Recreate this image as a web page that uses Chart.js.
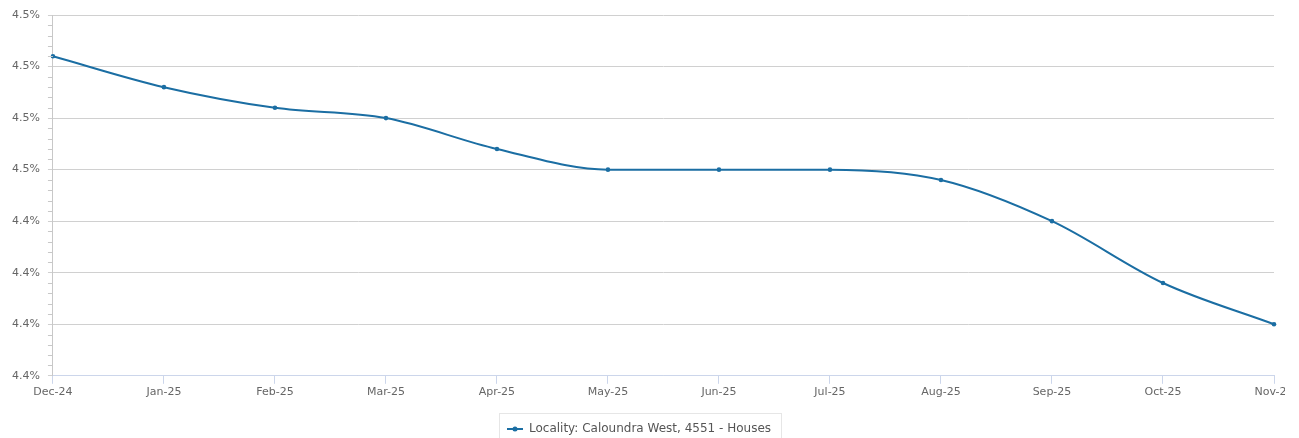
<!DOCTYPE html>
<html>
<head>
<meta charset="utf-8">
<script src="https://cdn.jsdelivr.net/npm/chart.js@4.4.1/dist/chart.umd.min.js"></script>
<style>
  html, body { margin: 0; padding: 0; background: #fff; }
  #wrap { width: 1285px; height: 438px; overflow: hidden; }
</style>
</head>
<body>
<div id="wrap"><canvas id="grafico" width="1285" height="445"></canvas></div>
<script>
// Dados do gráfico
const meses = ['Dec-24', 'Jan-25', 'Feb-25', 'Mar-25', 'Apr-25', 'May-25', 'Jun-25', 'Jul-25', 'Aug-25', 'Sep-25', 'Oct-25', 'Nov-25'];
const rendimento = [4.472, 4.466, 4.462, 4.46, 4.454, 4.45, 4.45, 4.45, 4.448, 4.44, 4.428, 4.42];
const nomeSerie = 'Locality: Caloundra West, 4551 - Houses';
const eixoMin = 4.41;
const eixoMax = 4.48;
const eixoPasso = 0.01;

const corLinha = '#1b6ea3';

// marcador da legenda: linha com ponto no meio
const marcador = document.createElement('canvas');
marcador.width = 16;
marcador.height = 6;
const mctx = marcador.getContext('2d');
mctx.strokeStyle = corLinha;
mctx.lineWidth = 2;
mctx.beginPath();
mctx.moveTo(0, 3);
mctx.lineTo(16, 3);
mctx.stroke();
mctx.fillStyle = corLinha;
mctx.beginPath();
mctx.arc(8, 3, 2.5, 0, Math.PI * 2);
mctx.fill();

// ticks menores no eixo y + borda da legenda
const extras = {
    id: 'extras',
    afterDraw(chart) {
        const ctx = chart.ctx;
        const y = chart.scales.y;
        const xEsq = chart.chartArea.left;
        ctx.save();
        ctx.strokeStyle = '#c8c8c8';
        ctx.lineWidth = 1;
        for (let v = eixoMin; v < eixoMax - 1e-9; v += eixoPasso) {
            for (let k = 1; k < 5; k++) {
                const py = Math.round(y.getPixelForValue(v + k * eixoPasso / 5)) + 0.5;
                ctx.beginPath();
                ctx.moveTo(xEsq - 5, py);
                ctx.lineTo(xEsq, py);
                ctx.stroke();
            }
        }
        const hb = chart.legend.legendHitBoxes[0];
        if (hb) {
            const cy = hb.top + hb.height / 2;
            ctx.strokeStyle = '#e6e6e6';
            ctx.strokeRect(Math.round(hb.left - 8) + 0.5, Math.round(cy - 16) + 0.5, Math.round(hb.width + 18), 40);
        }
        ctx.restore();
    }
};

Chart.defaults.font.family = '"DejaVu Sans", sans-serif';

const grafico = new Chart(document.getElementById('grafico'), {
    type: 'line',
    data: {
        labels: meses,
        datasets: [{
            label: nomeSerie,
            data: rendimento,
            borderColor: corLinha,
            backgroundColor: corLinha,
            borderWidth: 2,
            pointRadius: 2.3,
            pointHoverRadius: 3,
            pointBorderWidth: 0,
            cubicInterpolationMode: 'monotone'
        }]
    },
    options: {
        responsive: false,
        animation: false,
        layout: { padding: { top: 15, right: 11, left: 4, bottom: 0 } },
        plugins: {
            tooltip: { enabled: false },
            legend: {
                position: 'bottom',
                labels: {
                    usePointStyle: true,
                    pointStyleWidth: 16,
                    color: '#555',
                    font: { size: 12 },
                    padding: 4,
                    generateLabels(chart) {
                        return chart.data.datasets.map((ds, i) => ({
                            text: ds.label,
                            pointStyle: marcador,
                            fillStyle: corLinha,
                            strokeStyle: corLinha,
                            lineWidth: 0,
                            fontColor: '#555',
                            datasetIndex: i
                        }));
                    }
                }
            }
        },
        scales: {
            x: {
                offset: false,
                afterFit(scale) {
                    scale.paddingRight = 0;
                    scale.height += 18;
                },
                border: { color: '#ccd6eb' },
                grid: { drawOnChartArea: false, color: '#ccd6eb', tickLength: 8 },
                ticks: { color: '#666', font: { size: 11 }, maxRotation: 0, autoSkip: false, padding: 2 }
            },
            y: {
                min: eixoMin,
                max: eixoMax,
                border: { color: '#c8c8c8' },
                grid: { color: '#d0d0d0', tickLength: 5 },
                ticks: {
                    stepSize: eixoPasso,
                    color: '#666',
                    font: { size: 11 },
                    padding: 8,
                    callback: v => (Math.round(v * 100) / 100).toFixed(1) + '%'
                }
            }
        }
    },
    plugins: [extras]
});
</script>
</body>
</html>
